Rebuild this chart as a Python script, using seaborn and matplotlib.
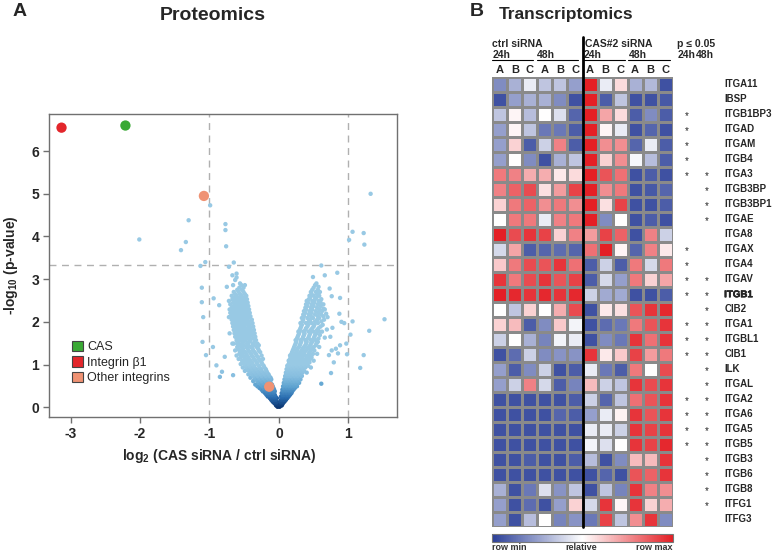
import numpy as np
import pandas as pd
import matplotlib
matplotlib.use('Agg')
import matplotlib.pyplot as plt
import matplotlib.patheffects as pe
import seaborn as sns
from matplotlib.colors import LinearSegmentedColormap
from matplotlib.patches import Patch

# ---------------- Panel A: proteomics volcano ----------------
# dense V-shaped cloud: for each -log10(p) level, the log2 ratios
cloud_rows = {
    0.01: [-0.02, 0.01],
    0.04: [-0.04, -0.01, 0.02, 0.04],
    0.07: [-0.05, -0.02, 0.01, 0.05],
    0.10: [-0.07, -0.04, 0.03, 0.06],
    0.13: [-0.09, -0.06, -0.03, 0.02, 0.05, 0.08],
    0.17: [-0.11, -0.08, -0.05, 0.03, 0.07, 0.10],
    0.21: [-0.13, -0.10, -0.06, -0.03, 0.04, 0.08, 0.12],
    0.25: [-0.16, -0.12, -0.08, -0.05, 0.03, 0.06, 0.10, 0.14],
    0.29: [-0.18, -0.14, -0.10, -0.06, 0.05, 0.08, 0.12, 0.16],
    0.33: [-0.20, -0.16, -0.12, -0.08, 0.04, 0.07, 0.11, 0.15, 0.18],
    0.37: [-0.23, -0.18, -0.13, -0.09, -0.06, 0.06, 0.10, 0.14, 0.19],
    0.41: [-0.25, -0.19, -0.15, -0.11, -0.07, 0.05, 0.09, 0.13, 0.17, 0.21],
    0.45: [-0.28, -0.22, -0.17, -0.12, -0.08, 0.07, 0.11, 0.15, 0.20, 0.23],
    0.49: [-0.31, -0.24, -0.19, -0.14, -0.09, 0.06, 0.10, 0.14, 0.18, 0.22, 0.26],
    0.53: [-0.34, -0.26, -0.20, -0.15, -0.10, 0.08, 0.12, 0.16, 0.21, 0.25],
    0.57: [-0.29, -0.23, -0.17, -0.12, 0.07, 0.11, 0.15, 0.19, 0.24, 0.29],
    0.61: [-0.37, -0.31, -0.25, -0.19, -0.13, 0.09, 0.13, 0.18, 0.22, 0.27],
    0.65: [-0.33, -0.27, -0.21, -0.15, -0.11, 0.08, 0.12, 0.16, 0.21, 0.25, 0.31],
    0.69: [-0.41, -0.35, -0.29, -0.23, -0.17, -0.12, 0.10, 0.14, 0.19, 0.24, 0.28],
    0.73: [-0.37, -0.31, -0.25, -0.19, -0.14, 0.09, 0.13, 0.17, 0.22, 0.27, 0.33],
    0.77: [-0.44, -0.39, -0.33, -0.27, -0.21, -0.15, 0.11, 0.15, 0.20, 0.25, 0.30],
    0.81: [-0.41, -0.35, -0.29, -0.23, -0.17, 0.10, 0.14, 0.18, 0.23, 0.28, 0.34, 0.40],
    0.85: [-0.49, -0.43, -0.37, -0.31, -0.25, -0.18, 0.12, 0.16, 0.21, 0.26, 0.31, 0.36],
    0.89: [-0.45, -0.39, -0.33, -0.26, -0.19, 0.11, 0.15, 0.19, 0.24, 0.29, 0.35],
    0.93: [-0.52, -0.47, -0.41, -0.35, -0.28, -0.21, 0.13, 0.17, 0.22, 0.27, 0.33, 0.38, 0.46],
    0.97: [-0.48, -0.42, -0.36, -0.29, -0.22, 0.12, 0.16, 0.20, 0.25, 0.31, 0.37, 0.42],
    1.01: [-0.55, -0.50, -0.44, -0.38, -0.31, -0.24, 0.14, 0.18, 0.23, 0.29, 0.35, 0.40],
    1.05: [-0.51, -0.45, -0.39, -0.32, -0.25, 0.15, 0.20, 0.26, 0.32, 0.38, 0.44],
    1.09: [-0.53, -0.47, -0.41, -0.34, -0.27, 0.14, 0.19, 0.24, 0.30, 0.36, 0.42, 0.50],
    1.13: [-0.58, -0.49, -0.43, -0.36, -0.29, -0.23, 0.16, 0.21, 0.27, 0.33, 0.39, 0.45],
    1.17: [-0.55, -0.50, -0.44, -0.37, -0.30, 0.17, 0.22, 0.28, 0.34, 0.41, 0.47],
    1.21: [-0.61, -0.52, -0.46, -0.39, -0.32, -0.25, 0.16, 0.21, 0.26, 0.32, 0.38, 0.44],
    1.25: [-0.57, -0.53, -0.47, -0.40, -0.33, 0.18, 0.24, 0.30, 0.36, 0.43, 0.49, 0.55],
    1.29: [-0.55, -0.49, -0.42, -0.35, -0.27, 0.19, 0.25, 0.31, 0.37, 0.44],
    1.33: [-0.63, -0.57, -0.51, -0.44, -0.37, -0.29, 0.20, 0.26, 0.33, 0.39, 0.46, 0.51],
    1.37: [-0.59, -0.52, -0.45, -0.38, -0.30, 0.21, 0.27, 0.34, 0.41, 0.48],
    1.41: [-0.60, -0.54, -0.47, -0.40, -0.32, 0.22, 0.29, 0.36, 0.43, 0.50, 0.58],
    1.45: [-0.57, -0.51, -0.44, -0.36, -0.29, 0.23, 0.30, 0.38, 0.45, 0.53],
    1.49: [-0.67, -0.60, -0.53, -0.46, -0.38, -0.31, 0.24, 0.31, 0.39, 0.46, 0.54],
    1.53: [-0.58, -0.51, -0.43, -0.35, 0.25, 0.32, 0.40, 0.48, 0.56],
    1.57: [-0.61, -0.55, -0.48, -0.41, -0.33, 0.24, 0.31, 0.38, 0.46, 0.53],
    1.61: [-0.59, -0.52, -0.45, -0.37, 0.26, 0.34, 0.42, 0.50, 0.57],
    1.65: [-0.63, -0.56, -0.49, -0.42, -0.34, 0.27, 0.35, 0.43, 0.51],
    1.69: [-0.60, -0.53, -0.46, -0.39, 0.28, 0.36, 0.44, 0.52, 0.59],
    1.73: [-0.71, -0.64, -0.57, -0.50, -0.43, -0.35, 0.29, 0.37, 0.45, 0.54],
    1.77: [-0.61, -0.54, -0.47, -0.40, 0.28, 0.35, 0.43, 0.50, 0.58, 0.62],
    1.81: [-0.65, -0.58, -0.51, -0.44, -0.36, 0.30, 0.38, 0.46, 0.55],
    1.85: [-0.62, -0.55, -0.48, -0.41, 0.31, 0.39, 0.48, 0.57],
    1.89: [-0.66, -0.59, -0.52, -0.44, -0.37, 0.32, 0.41, 0.50, 0.60],
    1.93: [-0.63, -0.56, -0.49, -0.42, 0.33, 0.42, 0.51, 0.63],
    1.97: [-0.67, -0.60, -0.53, -0.46, -0.38, 0.31, 0.39, 0.47, 0.56],
    2.01: [-0.64, -0.57, -0.50, -0.43, 0.34, 0.43, 0.52, 0.61],
    2.05: [-0.68, -0.61, -0.54, -0.47, -0.39, 0.35, 0.45, 0.55, 0.65],
    2.09: [-0.65, -0.58, -0.51, -0.44, 0.33, 0.41, 0.49, 0.58],
    2.13: [-0.69, -0.62, -0.55, -0.48, -0.41, 0.36, 0.46, 0.56, 0.64],
    2.17: [-0.66, -0.59, -0.52, -0.45, 0.35, 0.43, 0.52, 0.61],
    2.21: [-0.70, -0.63, -0.56, -0.49, -0.42, 0.38, 0.47, 0.57],
    2.25: [-0.67, -0.60, -0.53, -0.46, 0.36, 0.44, 0.53, 0.62],
    2.29: [-0.71, -0.64, -0.57, -0.50, -0.43, 0.39, 0.48, 0.58, 0.66],
    2.33: [-0.68, -0.61, -0.54, -0.47, 0.38, 0.46, 0.55],
    2.37: [-0.65, -0.58, -0.51, -0.44, 0.41, 0.50, 0.60],
    2.41: [-0.70, -0.62, -0.55, -0.48, 0.39, 0.47, 0.56, 0.64],
    2.45: [-0.66, -0.59, -0.52, -0.45, 0.42, 0.51, 0.60],
    2.49: [-0.72, -0.63, -0.56, -0.49, 0.40, 0.48, 0.57],
    2.53: [-0.67, -0.60, -0.53, -0.46, 0.43, 0.52, 0.61],
    2.57: [-0.64, -0.57, -0.50, 0.45, 0.54],
    2.61: [-0.68, -0.61, -0.54, -0.47, 0.44, 0.50, 0.58],
    2.65: [-0.63, -0.56, -0.49, 0.47, 0.55],
    2.70: [-0.65, -0.58, -0.51, 0.46, 0.53, 0.59],
    2.75: [-0.60, -0.53, 0.48, 0.56],
    2.80: [-0.57, -0.51, 0.50],
    2.86: [-0.54, 0.52],
}

# scattered proteins outside the dense cloud
sparse_log2fc = [-2.01, -1.30, -1.34, -1.41, -0.99, -0.77, -0.77, -0.76, -1.13, -1.06,
                 -0.72, -0.65, -0.67, -0.61, -0.61, -0.63, -0.49, -0.75, -1.11, -1.11,
                 -1.09, -1.10, -1.05, -0.95, -0.94, -0.86, -0.90, -0.82, -0.85, -0.78,
                 -0.66, -0.66, -0.56, -0.72, -0.63, -0.65,
                 1.32, 1.06, 1.22, 1.01, 1.23, 0.61, 0.66, 0.84, 0.49, 0.54,
                 0.57, 0.73, 0.76, 0.88, 0.64, 0.68, 0.70, 0.87, 0.90, 0.94,
                 1.06, 1.52, 1.30, 1.03, 0.69, 0.77, 0.74, 0.66, 0.82, 0.88,
                 0.97, 0.76, 0.72, 0.85, 0.98, 1.22, 0.79, 1.17, 0.75, 0.61]
sparse_neglogp = [3.93, 4.38, 3.87, 3.68, 4.73, 4.29, 4.15, 3.77, 3.31, 3.40,
                  3.29, 3.39, 3.09, 3.13, 3.04, 2.98, 2.86, 2.82, 2.80, 2.46,
                  2.11, 1.53, 1.22, 1.41, 2.55, 2.39, 0.98, 0.83, 0.71, 1.18,
                  0.75, 2.86, 2.90, 2.11, 1.88, 1.49,
                  5.00, 4.11, 4.08, 3.92, 3.81, 3.32, 3.09, 3.15, 3.05, 2.90,
                  2.82, 2.78, 2.60, 2.56, 2.31, 2.19, 2.11, 2.19, 2.00, 1.97,
                  2.01, 2.06, 1.79, 1.70, 1.82, 1.86, 1.65, 1.63, 1.37, 1.45,
                  1.49, 1.33, 1.22, 1.26, 1.24, 1.22, 1.05, 0.92, 0.80, 0.55]

# highlighted proteins
hl_group = ['CAS', 'Integrin β1', 'Other integrins', 'Other integrins']
hl_log2fc = [-2.21, -3.13, -1.08, -0.14]
hl_neglogp = [6.60, 6.55, 4.95, 0.48]

# ---------------- Panel B: transcriptomics heatmap ----------------
genes = ['ITGA11', 'IBSP', 'ITGB1BP3', 'ITGAD', 'ITGAM', 'ITGB4', 'ITGA3', 'ITGB3BP',
         'ITGB3BP1', 'ITGAE', 'ITGA8', 'ITGAX', 'ITGA4', 'ITGAV', 'ITGB1', 'CIB2',
         'ITGA1', 'ITGBL1', 'CIB1', 'ILK', 'ITGAL', 'ITGA2', 'ITGA6', 'ITGA5', 'ITGB5',
         'ITGB3', 'ITGB6', 'ITGB8', 'ITFG1', 'ITFG3']
sample_letters = ['A', 'B', 'C', 'A', 'B', 'C', 'A', 'B', 'C', 'A', 'B', 'C']

# relative expression, 0 = row min, 1 = row max (24h A B C, 48h A B C)
ctrl_expr = [
    [0.20, 0.30, 0.45, 0.35, 0.35, 0.25],
    [0.05, 0.25, 0.30, 0.30, 0.20, 0.05],
    [0.35, 0.52, 0.33, 0.50, 0.42, 0.10],
    [0.25, 0.52, 0.35, 0.15, 0.15, 0.08],
    [0.25, 0.60, 0.08, 0.38, 0.78, 0.08],
    [0.25, 0.50, 0.20, 0.05, 0.30, 0.35],
    [0.80, 0.78, 0.68, 0.68, 0.55, 0.58],
    [0.78, 0.85, 0.90, 0.57, 0.72, 0.92],
    [0.60, 0.80, 0.85, 0.75, 0.80, 0.75],
    [0.50, 0.80, 0.80, 0.45, 0.78, 0.80],
    [1.00, 0.90, 0.95, 0.92, 0.60, 0.78],
    [0.40, 0.70, 0.08, 0.10, 0.12, 0.10],
    [0.62, 0.80, 0.90, 0.88, 0.95, 0.82],
    [0.95, 0.80, 0.90, 0.95, 0.88, 0.92],
    [1.00, 0.98, 0.95, 0.98, 0.95, 0.98],
    [0.50, 0.35, 0.60, 0.50, 0.68, 0.90],
    [0.60, 0.65, 0.08, 0.20, 0.62, 0.47],
    [0.38, 0.50, 0.30, 0.18, 0.47, 0.45],
    [0.05, 0.12, 0.38, 0.20, 0.22, 0.22],
    [0.25, 0.08, 0.20, 0.38, 0.05, 0.08],
    [0.25, 0.38, 0.78, 0.40, 0.08, 0.18],
    [0.05, 0.05, 0.05, 0.05, 0.05, 0.08],
    [0.05, 0.05, 0.05, 0.05, 0.10, 0.08],
    [0.05, 0.05, 0.05, 0.05, 0.05, 0.05],
    [0.05, 0.05, 0.05, 0.05, 0.05, 0.05],
    [0.05, 0.05, 0.08, 0.05, 0.05, 0.08],
    [0.05, 0.05, 0.05, 0.05, 0.05, 0.05],
    [0.30, 0.05, 0.15, 0.42, 0.22, 0.35],
    [0.25, 0.05, 0.12, 0.05, 0.25, 0.60],
    [0.25, 0.05, 0.33, 0.50, 0.18, 0.22],
]
cas_expr = [
    [1.00, 0.45, 0.58, 0.30, 0.32, 0.05],
    [1.00, 0.08, 0.35, 0.05, 0.05, 0.07],
    [1.00, 0.70, 0.58, 0.08, 0.20, 0.08],
    [1.00, 0.52, 0.45, 0.05, 0.10, 0.05],
    [1.00, 0.75, 0.75, 0.10, 0.45, 0.08],
    [1.00, 0.60, 0.75, 0.48, 0.33, 0.08],
    [1.00, 0.88, 0.82, 0.05, 0.08, 0.05],
    [1.00, 0.75, 0.80, 0.05, 0.07, 0.10],
    [1.00, 0.57, 0.92, 0.05, 0.05, 0.08],
    [1.00, 0.20, 0.50, 0.05, 0.08, 0.05],
    [0.72, 0.92, 0.85, 0.05, 0.78, 0.38],
    [0.82, 1.00, 0.52, 0.10, 0.78, 0.55],
    [0.08, 0.38, 0.08, 0.80, 0.40, 0.80],
    [0.08, 0.40, 0.25, 0.80, 0.60, 0.70],
    [0.38, 0.28, 0.28, 0.05, 0.05, 0.08],
    [0.05, 0.55, 0.57, 0.88, 0.95, 0.98],
    [0.05, 0.12, 0.15, 0.80, 0.88, 0.95],
    [0.05, 0.20, 0.15, 0.95, 0.82, 0.95],
    [0.95, 0.55, 0.62, 0.92, 0.72, 0.80],
    [0.45, 0.15, 0.08, 0.80, 0.50, 0.90],
    [0.65, 0.38, 0.35, 0.95, 0.90, 0.95],
    [0.38, 0.10, 0.35, 0.82, 0.88, 0.95],
    [0.25, 0.45, 0.53, 0.95, 0.88, 0.95],
    [0.45, 0.45, 0.38, 0.95, 0.92, 0.95],
    [0.47, 0.42, 0.50, 0.95, 0.92, 0.98],
    [0.33, 0.05, 0.20, 0.65, 0.65, 0.95],
    [0.05, 0.10, 0.05, 0.88, 0.85, 0.95],
    [0.05, 0.35, 0.18, 0.95, 0.78, 0.75],
    [0.40, 0.95, 0.52, 0.95, 0.60, 0.68],
    [0.15, 0.92, 0.35, 0.75, 0.95, 0.20],
]
# significance (p <= 0.05) at 24h and 48h
sig_24h = [0, 0, 1, 1, 1, 1, 1, 0, 0, 0, 0, 1, 1, 1, 1, 0, 1, 1, 1, 0, 0, 1, 1, 1, 1, 0, 0, 0, 0, 0]
sig_48h = [0, 0, 0, 0, 0, 0, 1, 1, 1, 1, 0, 0, 0, 1, 1, 1, 1, 1, 1, 1, 1, 1, 1, 1, 1, 1, 1, 1, 1, 0]

# ---------------- style ----------------
sns.set_style('white')
plt.rcParams['font.family'] = ['Liberation Sans', 'DejaVu Sans']
plt.rcParams['mathtext.fontset'] = 'custom'
plt.rcParams['mathtext.rm'] = 'Liberation Sans:bold'
plt.rcParams['mathtext.bf'] = 'Liberation Sans:bold'

fig = plt.figure(figsize=(7.73, 5.51), dpi=100)

# ---- volcano ----
cloud_x, cloud_y = [], []
for yv, xs in cloud_rows.items():
    cloud_x += xs
    cloud_y += [yv] * len(xs)
prot_df = pd.DataFrame({'log2fc': cloud_x + sparse_log2fc,
                        'neglogp': cloud_y + sparse_neglogp})
hl_df = pd.DataFrame({'group': hl_group, 'log2fc': hl_log2fc, 'neglogp': hl_neglogp})
hl_colors = {'CAS': '#3aa935', 'Integrin β1': '#e3262b', 'Other integrins': '#ef9273'}

# darker where the cloud is densest (near the apex)
blues = LinearSegmentedColormap.from_list(
    'vol', ['#08306b', '#2a6db0', '#5ea3d0', '#88bfe0', '#98c9e4'])

ax = fig.add_axes([0.0634, 0.2432, 0.4502, 0.5499])
sns.scatterplot(data=prot_df, x='log2fc', y='neglogp', hue='neglogp', palette=blues,
                hue_norm=(0, 1.0), s=10, linewidth=0, legend=False, ax=ax, zorder=2)
sns.scatterplot(data=hl_df, x='log2fc', y='neglogp', hue='group', palette=hl_colors,
                s=55, linewidth=0, legend=False, ax=ax, zorder=3)

for xv in (-1, 1):
    ax.axvline(xv, color='#b0b0b0', lw=1, ls=(0, (5, 4)), zorder=1)
ax.axhline(3.32, color='#b0b0b0', lw=1, ls=(0, (5, 4)), zorder=1)

ax.set_xlim(-3.31, 1.70)
ax.set_ylim(-0.23, 6.87)
ax.set_xticks([-3, -2, -1, 0, 1])
ax.set_xticklabels(['-3', '-2', '-1', '0', '1'])
ax.set_yticks(range(0, 7))
for sp in ax.spines.values():
    sp.set_color('#707070')
    sp.set_linewidth(1)
ax.tick_params(axis='both', which='major', direction='out', length=4, width=1,
               color='#707070', labelsize=10, pad=3, bottom=True, left=True)
for lab in ax.get_xticklabels() + ax.get_yticklabels():
    lab.set_fontweight('bold')
ax.set_xlabel(r'log$_{2}$ (CAS siRNA / ctrl siRNA)', fontsize=10, fontweight='bold')
ax.set_ylabel(r'-log$_{10}$ (p-value)', fontsize=10, fontweight='bold')
ax.xaxis.set_label_coords(0.49, -0.10)
ax.yaxis.set_label_coords(-0.082, 0.5)

handles = [Patch(facecolor=c, edgecolor='#444444', lw=0.8, label=k) for k, c in hl_colors.items()]
ax.legend(handles=handles, loc='upper left', bbox_to_anchor=(0.066, 0.252), frameon=False,
          fontsize=9, handlelength=0.9, handleheight=0.9, handletextpad=0.3,
          labelspacing=0.25, borderaxespad=0, borderpad=0)

# ---- heatmap ----
expr = np.hstack([np.array(ctrl_expr), np.array(cas_expr)])
rowscale = LinearSegmentedColormap.from_list('rowscale', ['#2b3f98', '#ffffff', '#e41f25'])

hax = fig.add_axes([0.6369, 0.0441, 0.2334, 0.8167])
cax = fig.add_axes([0.6369, 0.0169, 0.2334, 0.014])
sns.heatmap(expr, cmap=rowscale, vmin=0, vmax=1, linewidths=0.9, linecolor='#8a8a8a',
            cbar_ax=cax, cbar_kws={'orientation': 'horizontal', 'ticks': []},
            xticklabels=False, yticklabels=False, ax=hax)
cbar = hax.collections[0].colorbar
cbar.outline.set_edgecolor('#777777')
cbar.outline.set_linewidth(0.8)

# separator between ctrl and CAS siRNA
hax.plot([6, 6], [-2.65, 30], color='black', lw=2, clip_on=False, zorder=5)

hdr = dict(fontsize=7.5, fontweight='bold', va='center', clip_on=False)
hax.text(0.0, -2.2, 'ctrl siRNA', ha='left', **hdr)
hax.text(6.15, -2.2, 'CAS#2 siRNA', ha='left', **hdr)
for x0, x1, tp in [(0, 2.73, '24h'), (2.95, 5.72, '48h'), (6.05, 8.83, '24h'), (9.05, 11.82, '48h')]:
    hax.text(x0, -1.45, tp, ha='left', **hdr)
    hax.plot([x0, x1], [-1.1, -1.1], color='black', lw=0.8, clip_on=False)
for i, letter in enumerate(sample_letters):
    hax.text(i + 0.5, -0.45, letter, ha='center', fontsize=8, fontweight='bold',
             va='center', clip_on=False)

hax.text(12.27, -2.2, 'p ≤ 0.05', ha='left', **hdr)
hax.text(12.93, -1.45, '24h', ha='center', **hdr)
hax.text(14.15, -1.45, '48h', ha='center', **hdr)

for r, gene in enumerate(genes):
    yc = r + 0.5
    if sig_24h[r]:
        hax.text(12.9, yc + 0.15, '*', ha='center', va='center', fontsize=7, clip_on=False)
    if sig_48h[r]:
        hax.text(14.26, yc + 0.15, '*', ha='center', va='center', fontsize=7, clip_on=False)
    t = hax.text(15.42, yc, gene, ha='left', va='center', fontsize=7,
                 fontweight='bold', clip_on=False)
    if gene == 'ITGB1':
        # the knocked-down integrin is set heavier in the figure
        t.set_path_effects([pe.withStroke(linewidth=0.35, foreground='black')])

cb_y = 1 - 547 / 551
cb_txt = dict(va='center', fontsize=6.5, fontweight='bold', color='#333333')
fig.text(492 / 773, cb_y, 'row min', ha='left', **cb_txt)
fig.text(581 / 773, cb_y, 'relative', ha='center', **cb_txt)
fig.text(673 / 773, cb_y, 'row max', ha='right', **cb_txt)

# ---- panel titles ----
fig.text(13 / 773, 1 - 12 / 551, 'A', ha='left', va='center', fontsize=14, fontweight='bold')
fig.text(213 / 773, 1 - 15 / 551, 'Proteomics', ha='center', va='center', fontsize=14,
         fontweight='bold')
fig.text(470 / 773, 1 - 12 / 551, 'B', ha='left', va='center', fontsize=14, fontweight='bold')
fig.text(566 / 773, 1 - 15 / 551, 'Transcriptomics', ha='center', va='center', fontsize=12.5,
         fontweight='bold')

fig.savefig('out.png', dpi=100)
